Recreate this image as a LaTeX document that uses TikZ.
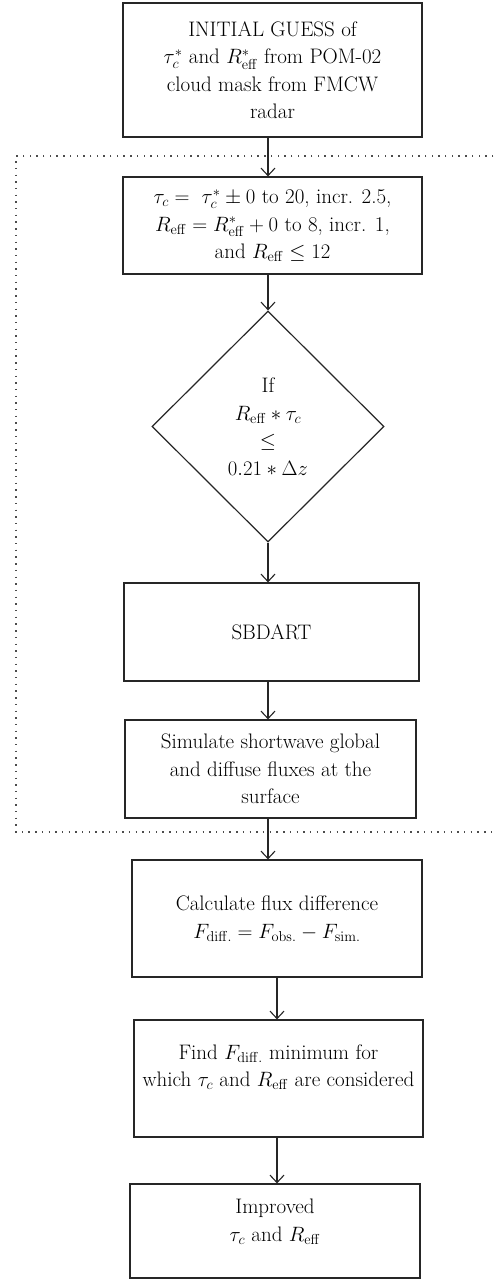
\documentclass[tikz,border=0pt]{standalone}
\usepackage{amsmath}
\usetikzlibrary{arrows.meta,shapes.geometric}
\begin{document}
\begin{tikzpicture}[x=1pt,y=-1pt,
  box/.style={draw=black!85, line width=1.2pt, align=center, inner sep=0pt,
    font=\fontsize{21}{27.5}\selectfont},
  arr/.style={line width=1.1pt, draw=black!85,
    -{Straight Barb[length=7.5pt,width=14pt,line width=1.1pt]}},
  dots/.style={line width=1.4pt, draw=black!70, dash pattern=on 1.4pt off 5.3pt}]
\useasboundingbox (0,0) rectangle (494,1280);

\node[box, minimum width=299pt, minimum height=134pt] (b1) at (272.5,70)
  {INITIAL GUESS of\\ $\tau_c^*$ and $R_{\mathrm{eff}}^*$ from POM-02\\ cloud mask from FMCW\\ radar};
\node[box, minimum width=299pt, minimum height=97pt] (b2) at (272.5,225.5)
  {$\tau_c =\ \tau_c^* \pm 0$ to 20, incr. 2.5,\\ $R_{\mathrm{eff}} = R_{\mathrm{eff}}^* + 0$ to 8, incr. 1,\\ and $R_{\mathrm{eff}} \leq 12$};
\node[box, diamond, minimum width=232pt, minimum height=231pt] (d) at (268,426.5)
  {If\\ $R_{\mathrm{eff}} * \tau_c$\\ $\leq$\\ $0.21 * \Delta z$};
\node[box, minimum width=295pt, minimum height=98pt] (s1) at (271.5,632) {SBDART};
\node[box, minimum width=291pt, minimum height=98pt] (s2) at (270.5,769)
  {Simulate shortwave global\\ and diffuse fluxes at the\\ surface};
\node[box, minimum width=290pt, minimum height=117pt] (c) at (277,918.5)
  {Calculate flux difference\\ $F_{\mathrm{diff.}} = F_{\mathrm{obs.}} - F_{\mathrm{sim.}}$};
\node[box, minimum width=289pt, minimum height=117pt, text depth=26pt] (f) at (278.5,1078.5)
  {Find $F_{\mathrm{diff.}}$ minimum for\\ which $\tau_c$ and $R_{\mathrm{eff}}$ are considered};
\node[box, minimum width=290pt, minimum height=94pt, text depth=22pt] (im) at (275,1231)
  {Improved\\ $\tau_c$ and $R_{\mathrm{eff}}$};

\draw[dots] (500,156) -- (16,156) -- (16,832) -- (500,832);

\draw[arr] (d.north |- b1.south) -- (d.north |- b2.north);
\draw[arr] (d.north |- b2.south) -- (d.north);
\draw[arr] (d.south) -- (d.south |- s1.north);
\draw[arr] (d.south |- s1.south) -- (d.south |- s2.north);
\draw[arr] (d.south |- s2.south) -- (d.south |- c.north);
\draw[arr] (c.south) -- (c.south |- f.north);
\draw[arr] (c.south |- f.south) -- (c.south |- im.north);
\end{tikzpicture}
\end{document}
